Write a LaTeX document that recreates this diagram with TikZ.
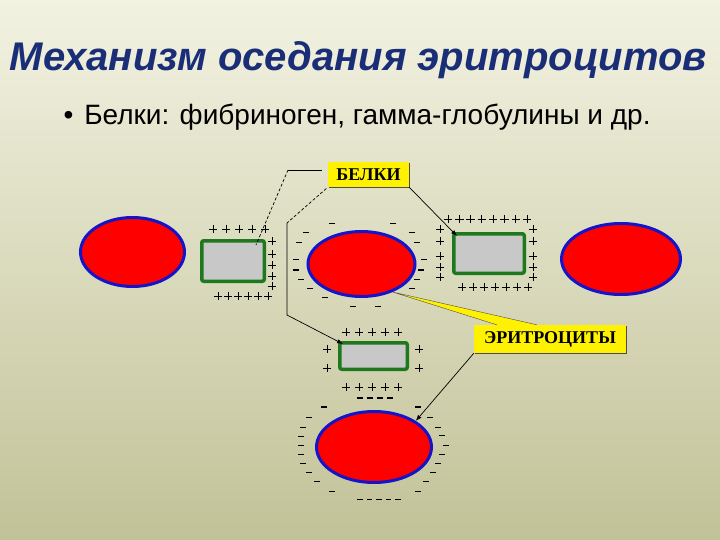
\documentclass[tikz,border=0pt]{standalone}
\usepackage{fontspec}
\setmainfont{Liberation Serif}
\setsansfont{Liberation Sans}
\usetikzlibrary{shapes.geometric, arrows.meta, backgrounds, shadows}
\definecolor{titleblue}{RGB}{26,46,120}
\definecolor{cellred}{RGB}{255,0,0}
\definecolor{cellblue}{RGB}{20,20,200}
\definecolor{protgreen}{RGB}{30,120,30}
\definecolor{protgray}{RGB}{200,200,200}
\definecolor{bgtop}{RGB}{242,242,226}
\definecolor{bgbot}{RGB}{194,194,152}

\begin{document}
\begin{tikzpicture}[
    x=1pt, y=-1pt,
    cell/.style={ellipse, draw=cellblue, fill=cellred, line width=3pt, inner sep=0pt},
    protein/.style={rectangle, draw=protgreen, fill=protgray, line width=3.5pt, rounded corners=2pt, inner sep=0pt},
    callout/.style={rectangle, fill=yellow, inner sep=0pt, font=\bfseries\fontsize{18}{18}\selectfont,
        drop shadow={shadow xshift=1pt, shadow yshift=-1pt, fill=black!70, opacity=1}},
    link/.style={line width=0.7pt},
    plus/.pic={\draw[line width=0.9pt] (-4.2,0) -- (4.2,0) (0,-4.2) -- (0,4.2);},
    minus/.pic={\draw[line width=0.8pt] (-2.8,0) -- (2.8,0);},
    bminus/.pic={\draw[line width=1.7pt] (-3.2,0) -- (3.2,0);}
]
    \useasboundingbox (0,0) rectangle (720,540);
    \begin{scope}[on background layer]
        \shade[top color=bgtop, bottom color=bgbot] (0,0) rectangle (720,540);
    \end{scope}

    % Title
    \node[anchor=base, font=\sffamily\bfseries\itshape\fontsize{40}{40}\selectfont, text=titleblue]
        (title) at (358.5,71) {Механизм оседания эритроцитов};
    \node[anchor=base west, font=\sffamily\fontsize{28}{28}\selectfont]
        (bullet) at (60,125) {•\hspace{11pt}Белки: фибриноген, гамма-глобулины и др.};

    % Define nodes
    \node[cell, minimum width=104, minimum height=69] (eleft) at (132.5,252) {};
    \node[cell, minimum width=107, minimum height=65] (emid) at (361.5,264) {};
    \node[cell, minimum width=119, minimum height=71] (eright) at (621,259) {};
    \node[cell, minimum width=115, minimum height=71] (ebot) at (374,447) {};

    \node[protein, minimum width=62.5, minimum height=40.5] (lprot) at (233,261) {};
    \node[protein, minimum width=70.5, minimum height=39.5] (rprot) at (489,253.5) {};
    \node[protein, minimum width=67.5, minimum height=26.5] (bprot) at (373.5,356) {};

    \node[callout, minimum width=81, minimum height=25] (belki) at (368.5,174.5) {БЕЛКИ};
    \node[callout, minimum width=152, minimum height=28] (eryt) at (550,339) {ЭРИТРОЦИТЫ};

    % Charges
    \foreach \x in {213,226,...,265} \pic at (\x,229) {plus};
    \foreach \y in {241,254,265,276,286} \pic at (272,\y) {plus};
    \foreach \x in {218,228,...,268} \pic at (\x,296) {plus};

    \foreach \i in {0,...,7} \pic at (448+11.3*\i,219) {plus};
    \foreach \y in {229,241,256,267,277} {
        \pic at (440,\y) {plus};
        \pic at (533,\y) {plus};
    }
    \foreach \i in {0,...,6} \pic at (462+11*\i,287) {plus};

    \foreach \x in {346,359,...,398} {
        \pic at (\x,332) {plus};
        \pic at (\x,387) {plus};
    }
    \foreach \y in {349,368} {
        \pic at (327,\y) {plus};
        \pic at (419,\y) {plus};
    }

    \foreach \x/\y in {332/223,393/223,306/232,412/232,299/242,417/242,296/259,424/259,
        301/279,417/279,310/288,412/288,325/297,353/306,378/306}
        \pic at (\x,\y) {minus};
    \foreach \x/\y in {296/270,421/270} \pic at (\x,\y) {bminus};

    \foreach \x in {360,370,380,390} \pic at (\x,398) {bminus};
    \foreach \x/\y in {324/407,418/407} \pic at (\x,\y) {bminus};
    \foreach \x/\y in {309/417,430/417,303/427,438/427,301/436,442/435,301/445,446/445,
        301/454,442/454,303/463,438/463,309/472,433/472,317/481,426/481,332/491,418/491}
        \pic at (\x,\y) {minus};
    \foreach \i in {0,...,4} \pic at (360+9.5*\i,499) {minus};

    % Transitions
    \coordinate (bk1) at (288,170);
    \coordinate (bk2) at (287,223);
    \coordinate (bk3) at (287,315);
    \draw[link, shorten <=6pt] (belki.west |- bk1) -- (bk1);
    \draw[link, densely dashed] (bk1) -- ([xshift=-10pt,yshift=-6pt]lprot.north east);
    \draw[link, densely dashed, shorten <=2pt] (belki.south west) -- (bk2);
    \draw[link, -{Latex[length=6pt]}] (bk2) -- (bk3) -- ([xshift=5pt,yshift=-3pt]bprot.north west);
    \draw[link, -{Latex[length=6pt]}] (belki.south east) -- ([xshift=5pt,yshift=-4pt]rprot.north west);

    \begin{scope}[on background layer]
        \fill[yellow] (emid.-42) -- ([xshift=23pt]eryt.north west) -- ([xshift=63pt]eryt.north west) -- cycle;
        \draw[line width=0.4pt, black!70] ([xshift=63pt]eryt.north west) -- (emid.-42) -- ([xshift=23pt]eryt.north west);
    \end{scope}
    \draw[link, -{Latex[length=6pt]}] (eryt.south west) -- (ebot.32);
\end{tikzpicture}
\end{document}
